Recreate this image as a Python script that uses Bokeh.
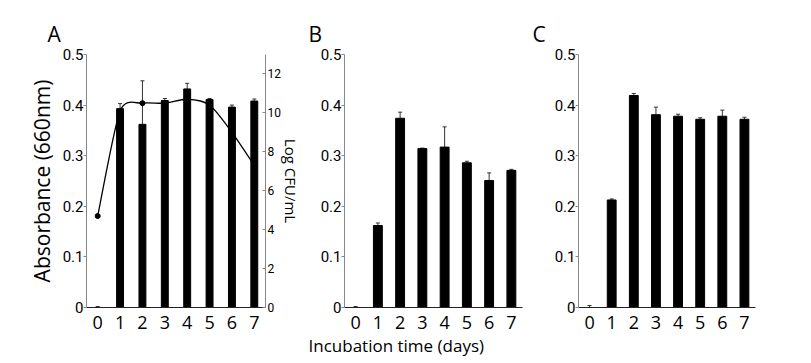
from bokeh.plotting import figure
from bokeh.layouts import row
from bokeh.models import Range1d, LinearAxis, Whisker, ColumnDataSource, FixedTicker, TeeHead, Title
from bokeh.embed import file_html
from bokeh.resources import INLINE

days = [0, 1, 2, 3, 4, 5, 6, 7]
day_labels = ["0", "1", "2", "3", "4", "5", "6", "7"]

abs_a = [0.0, 0.393, 0.362, 0.409, 0.432, 0.411, 0.396, 0.408]
err_a = [0.002, 0.010, 0.086, 0.004, 0.011, 0.002, 0.004, 0.004]
cfu_a = [4.7, 10.1, 10.5, 10.5, 10.7, 10.4, 9.0, 7.3]

abs_b = [0.0, 0.162, 0.374, 0.314, 0.317, 0.286, 0.251, 0.271]
err_b = [0.002, 0.005, 0.012, 0.001, 0.040, 0.003, 0.015, 0.002]

abs_c = [0.0, 0.2125, 0.419, 0.381, 0.378, 0.372, 0.378, 0.372]
err_c = [0.004, 0.002, 0.004, 0.015, 0.004, 0.003, 0.012, 0.004]

abs_ticks = [0, 0.1, 0.2, 0.3, 0.4, 0.5]
abs_tick_labels = ["0", "0.1", "0.2", "0.3", "0.4", "0.5"]
cfu_ticks = [0, 2, 4, 6, 8, 10, 12]
cfu_tick_labels = ["0", "2", "4", "6", "8", "10", "12"]

panel_letters = ["A", "B", "C"]
y_title = "Absorbance (660nm)"
y2_title = "Log CFU/mL"
x_title = "Incubation time (days)"

FONT = "Open Sans"
TICKFONT = "Roboto"
H = 361


def make_panel(width, left, right, vals, errs, bar_w, letter, letter_off):
    p = figure(width=width, height=H, x_range=Range1d(-0.5, 7.5), y_range=Range1d(0, 0.5),
               output_backend="svg", toolbar_location=None,
               min_border_left=left, min_border_right=right,
               min_border_top=54, min_border_bottom=54)
    p.grid.visible = False
    p.outline_line_color = None
    p.background_fill_color = "white"
    p.border_fill_color = "white"

    p.title.text = letter
    p.title.align = "left"
    p.title.offset = letter_off
    p.title.standoff = 14
    p.title.text_font = FONT
    p.title.text_font_size = "21px"
    p.title.text_font_style = "normal"
    p.title.text_color = "black"

    p.vbar(x=days, top=vals, width=bar_w, fill_color="black", line_color="black")

    src = ColumnDataSource(dict(x=days, lo=vals, hi=[v + e for v, e in zip(vals, errs)]))
    w = Whisker(base="x", lower="lo", upper="hi", source=src, line_color="#333333", line_width=1,
                upper_head=TeeHead(size=4, line_color="#333333", line_width=1), lower_head=None)
    p.add_layout(w)

    xa = p.xaxis[0]
    xa.ticker = FixedTicker(ticks=days)
    xa.major_label_overrides = {d: l for d, l in zip(days, day_labels)}
    xa.major_tick_line_color = None
    xa.minor_tick_line_color = None
    xa.axis_line_color = "#222222"
    xa.axis_line_width = 1.2
    xa.major_label_text_font = FONT
    xa.major_label_text_font_size = "18px"
    xa.major_label_text_color = "black"
    xa.major_label_standoff = 2

    ya = p.yaxis[0]
    ya.ticker = FixedTicker(ticks=abs_ticks)
    ya.major_label_overrides = {t: l for t, l in zip(abs_ticks, abs_tick_labels)}
    ya.minor_tick_line_color = None
    ya.major_tick_in = 0
    ya.major_tick_out = 3
    ya.major_tick_line_color = "#888888"
    ya.axis_line_color = "#888888"
    ya.major_label_text_font = TICKFONT
    ya.major_label_text_font_size = "15px"
    ya.major_label_text_color = "black"
    ya.major_label_standoff = 0
    return p


pa = make_panel(309, 86, 44, abs_a, err_a, 0.31, panel_letters[0], -39)
pa.yaxis[0].axis_label = y_title
pa.yaxis[0].axis_label_text_font = FONT
pa.yaxis[0].axis_label_text_font_size = "21px"
pa.yaxis[0].axis_label_text_font_style = "normal"
pa.yaxis[0].axis_label_text_color = "black"
pa.yaxis[0].axis_label_standoff = 4

pa.extra_y_ranges = {"cfu": Range1d(0, 13)}
ra = LinearAxis(y_range_name="cfu", ticker=FixedTicker(ticks=cfu_ticks))
ra.major_label_overrides = {t: l for t, l in zip(cfu_ticks, cfu_tick_labels)}
ra.minor_tick_line_color = None
ra.major_tick_in = 3
ra.major_tick_out = 0
ra.major_tick_line_color = "#888888"
ra.axis_line_color = "#888888"
ra.major_label_text_font = TICKFONT
ra.major_label_text_font_size = "12px"
ra.major_label_text_color = "black"
ra.major_label_standoff = 2
ra.axis_label = y2_title
ra.axis_label_text_font = FONT
ra.axis_label_text_font_size = "15px"
ra.axis_label_text_font_style = "normal"
ra.axis_label_text_color = "black"
ra.axis_label_standoff = -3
pa.add_layout(ra, "right")

# smooth curve through CFU points (cardinal spline -> cubic Bezier)
n = len(days)
k = 1 / 8
x0s, y0s, x1s, y1s, cx0s, cy0s, cx1s, cy1s = [], [], [], [], [], [], [], []
for i in range(n - 1):
    im1 = max(i - 1, 0)
    ip2 = min(i + 2, n - 1)
    x0s.append(days[i]); y0s.append(cfu_a[i])
    x1s.append(days[i + 1]); y1s.append(cfu_a[i + 1])
    cx0s.append(days[i] + (days[i + 1] - days[im1]) * k)
    cy0s.append(cfu_a[i] + (cfu_a[i + 1] - cfu_a[im1]) * k)
    cx1s.append(days[i + 1] - (days[ip2] - days[i]) * k)
    cy1s.append(cfu_a[i + 1] - (cfu_a[ip2] - cfu_a[i]) * k)
pa.bezier(x0=x0s, y0=y0s, x1=x1s, y1=y1s, cx0=cx0s, cy0=cy0s, cx1=cx1s, cy1=cy1s,
          line_color="black", line_width=1.3, y_range_name="cfu")
pa.scatter(x=days, y=cfu_a, size=5, color="black", y_range_name="cfu")

pb = make_panel(223, 35, 10, abs_b, err_b, 0.4, panel_letters[1], -36)
pb.add_layout(Title(text=x_title, align="left", offset=-36, standoff=0, text_font=FONT,
                    text_font_size="17px", text_font_style="normal", text_color="black"), "below")

pc = make_panel(263, 46, 40, abs_c, err_c, 0.4, panel_letters[2], -46)

layout = row(pa, pb, pc)
open("out.html", "w").write(file_html(layout, INLINE))
